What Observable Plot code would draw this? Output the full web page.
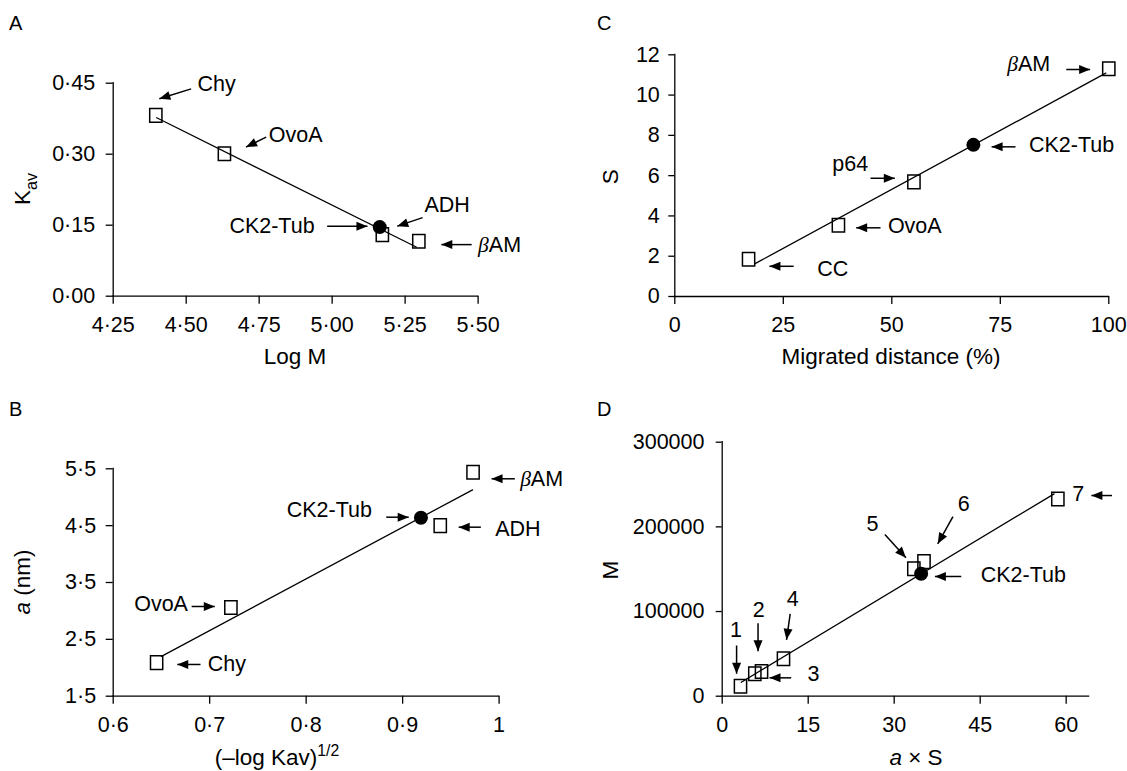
<!DOCTYPE html>
<html>
<head>
<meta charset="utf-8">
<script src="https://cdn.jsdelivr.net/npm/d3@7"></script>
<script src="https://cdn.jsdelivr.net/npm/@observablehq/plot@0.6"></script>
<style>
  html, body { margin: 0; padding: 0; background: #fff; }
  #wrap { position: relative; width: 1127px; height: 771px; overflow: hidden; background: #fff; }
</style>
</head>
<body>
<div id="wrap"></div>
<script>
// ---------------- DATA ----------------
// Panel A: Kav vs Log M
const aNames = ["Chy", "OvoA", "ADH", "βAM"];
const aLogM = [4.396, 4.631, 5.172, 5.297];
const aKav = [0.382, 0.301, 0.130, 0.116];
const aCK2LogM = [5.163];
const aCK2Kav = [0.146];
const aFitLogM = [4.399, 5.288];
const aFitKav = [0.377, 0.104];
const aXTicks = [4.25, 4.5, 4.75, 5.0, 5.25, 5.5];
const aYTicks = [0, 0.15, 0.30, 0.45];

// Panel B: a (nm) vs (-log Kav)^1/2
const bNames = ["Chy", "OvoA", "ADH", "βAM"];
const bX = [0.645, 0.722, 0.939, 0.973];
const bA = [2.09, 3.06, 4.50, 5.44];
const bCK2X = [0.919];
const bCK2A = [4.64];
const bFitX = [0.650, 0.9725];
const bFitA = [2.20, 5.13];
const bXTicks = [0.6, 0.7, 0.8, 0.9, 1];
const bYTicks = [1.5, 2.5, 3.5, 4.5, 5.5];

// Panel C: S vs migrated distance (%)
const cNames = ["CC", "OvoA", "p64", "βAM"];
const cDist = [17.0, 37.7, 55.1, 100];
const cS = [1.85, 3.54, 5.69, 11.31];
const cCK2Dist = [68.8];
const cCK2S = [7.53];
const cFitDist = [18.4, 99.3];
const cFitS = [1.62, 11.09];
const cXTicks = [0, 25, 50, 75, 100];
const cYTicks = [0, 2, 4, 6, 8, 10, 12];

// Panel D: M vs a x S
const dNames = ["1", "2", "3", "4", "5", "6", "7"];
const dAS = [3.19, 5.69, 6.86, 10.69, 33.43, 35.2, 58.55];
const dM = [11800, 26500, 29200, 44200, 150500, 159000, 233000];
const dCK2AS = [34.7];
const dCK2M = [144600];
const dFitAS = [3.33, 57.9];
const dFitM = [16500, 239000];
const dXTicks = [0, 15, 30, 45, 60];
const dYTicks = [0, 100000, 200000, 300000];

// Annotation labels (data coordinates) and arrows (data coordinates)
const aLabels = [
  {text: "Chy", x: 4.539, y: 0.449, anchor: "start"},
  {text: "OvoA", x: 4.783, y: 0.340, anchor: "start"},
  {text: "ADH", x: 5.316, y: 0.192, anchor: "start"},
  {text: "CK2-Tub", x: 4.940, y: 0.148, anchor: "end"},
  {text: "βAM", x: 5.50, y: 0.108, anchor: "start"}
];
const aArrows = [
  {x1: 4.517, y1: 0.438, x2: 4.408, y2: 0.417},
  {x1: 4.774, y1: 0.336, x2: 4.705, y2: 0.315},
  {x1: 5.310, y1: 0.166, x2: 5.223, y2: 0.148},
  {x1: 4.983, y1: 0.148, x2: 5.121, y2: 0.148},
  {x1: 5.478, y1: 0.109, x2: 5.374, y2: 0.109}
];
const bLabels = [
  {text: "βAM", x: 1.0218, y: 5.324, anchor: "start"},
  {text: "ADH", x: 0.9959, y: 4.445, anchor: "start"},
  {text: "CK2-Tub", x: 0.8682, y: 4.766, anchor: "end"},
  {text: "OvoA", x: 0.6775, y: 3.113, anchor: "end"},
  {text: "Chy", x: 0.6979, y: 2.058, anchor: "start"}
];
const bArrows = [
  {x1: 1.0163, y1: 5.324, x2: 0.9922, y2: 5.324},
  {x1: 0.9811, y1: 4.473, x2: 0.9581, y2: 4.473},
  {x1: 0.8830, y1: 4.649, x2: 0.9063, y2: 4.649},
  {x1: 0.6813, y1: 3.078, x2: 0.7053, y2: 3.078},
  {x1: 0.6905, y1: 2.058, x2: 0.6664, y2: 2.058}
];
const cLabels = [
  {text: "βAM", x: 76.6, y: 11.55, anchor: "start"},
  {text: "CK2-Tub", x: 81.6, y: 7.53, anchor: "start"},
  {text: "p64", x: 36.3, y: 6.59, anchor: "start"},
  {text: "OvoA", x: 49.1, y: 3.49, anchor: "start"},
  {text: "CC", x: 32.8, y: 1.375, anchor: "start"}
];
const cArrows = [
  {x1: 90.2, y1: 11.27, x2: 95.7, y2: 11.27},
  {x1: 78.5, y1: 7.43, x2: 73.0, y2: 7.43},
  {x1: 45.1, y1: 5.87, x2: 50.7, y2: 5.87},
  {x1: 47.4, y1: 3.41, x2: 41.8, y2: 3.41},
  {x1: 27.4, y1: 1.50, x2: 21.8, y2: 1.50}
];
const dLabels = [
  {text: "1", x: 2.39, y: 77600, anchor: "middle"},
  {text: "2", x: 6.37, y: 101200, anchor: "middle"},
  {text: "3", x: 14.88, y: 26500, anchor: "start"},
  {text: "4", x: 12.3, y: 115000, anchor: "middle"},
  {text: "5", x: 26.2, y: 203600, anchor: "middle"},
  {text: "6", x: 42.15, y: 227200, anchor: "middle"},
  {text: "7", x: 61.08, y: 238200, anchor: "start"},
  {text: "CK2-Tub", x: 45.1, y: 142600, anchor: "start"}
];
const dArrows = [
  {x1: 2.51, y1: 59900, x2: 2.51, y2: 26500},
  {x1: 6.25, y1: 86200, x2: 6.25, y2: 53100},
  {x1: 12.04, y1: 21700, x2: 8.25, y2: 21700},
  {x1: 11.86, y1: 97300, x2: 11.22, y2: 66600},
  {x1: 28.38, y1: 191000, x2: 32.05, y2: 163500},
  {x1: 40.25, y1: 212200, x2: 37.6, y2: 180000},
  {x1: 68.0, y1: 237000, x2: 64.4, y2: 237000},
  {x1: 41.7, y1: 141400, x2: 37.1, y2: 141400}
];

// ---------------- RENDER ----------------
const FONT = '"Liberation Sans", Arial, Helvetica, sans-serif';
const FS = 21.5;      // tick labels and annotations
const FT = 22.5;      // axis titles
const wrap = document.getElementById("wrap");
const NS = "http://www.w3.org/2000/svg";

const fmtDot = (digits) => (d) => d3.format(`.${digits}f`)(d).replace(".", "·");
const fmtB = (d) => d === 1 ? "1" : fmtDot(1)(d);
const fmtInt = (d) => String(d);

const rectSymbol = {
  draw(context, size) {
    const r = Math.sqrt(size / Math.PI);
    const w = r * 0.9, h = r;
    context.moveTo(-w, -h);
    context.lineTo(w, -h);
    context.lineTo(w, h);
    context.lineTo(-w, h);
    context.closePath();
  }
};

const zip = (xs, ys) => xs.map((x, i) => ({x, y: ys[i]}));

function fillMarkers(svg) {
  svg.querySelectorAll("marker").forEach((m) => {
    while (m.firstChild) m.removeChild(m.firstChild);
    m.setAttribute("viewBox", "-11 -4.5 11 9");
    m.setAttribute("markerUnits", "userSpaceOnUse");
    m.setAttribute("markerWidth", "11");
    m.setAttribute("markerHeight", "9");
    m.setAttribute("refX", "0");
    m.setAttribute("refY", "0");
    m.setAttribute("fill", "#000");
    m.setAttribute("stroke", "none");
    m.setAttribute("overflow", "visible");
    const p = document.createElementNS(NS, "path");
    p.setAttribute("d", "M-11,-4.5L0,0L-11,4.5Z");
    m.appendChild(p);
  });
}

function italicBeta(svg) {
  svg.querySelectorAll("text").forEach((t) => {
    if (t.textContent === "βAM") {
      t.textContent = "";
      const b = document.createElementNS(NS, "tspan");
      b.setAttribute("font-style", "italic");
      b.setAttribute("font-family", '"Liberation Serif", "DejaVu Serif", serif');
      b.textContent = "β";
      const r = document.createElementNS(NS, "tspan");
      r.textContent = "AM";
      t.appendChild(b);
      t.appendChild(r);
    }
  });
}

function panel(cfg) {
  const pts = zip(cfg.px, cfg.py);
  const ck2 = zip(cfg.cx, cfg.cy);
  const fit = zip(cfg.fx, cfg.fy);
  const lab = cfg.labels;
  const marks = [
    Plot.ruleY([cfg.yDomain[0]], {x1: cfg.xDomain[0], x2: cfg.xDomain[1], stroke: "#000", strokeWidth: 1.3, strokeLinecap: "square"}),
    Plot.ruleX([cfg.xDomain[0]], {y1: cfg.yDomain[0], y2: cfg.yDomain[1], stroke: "#000", strokeWidth: 1.3, strokeLinecap: "square"}),
    Plot.axisX(cfg.xTicks, {tickSize: cfg.xts, tickPadding: cfg.xtp, tickFormat: cfg.xFmt, label: null, strokeWidth: 1.3, fontSize: FS}),
    Plot.axisY(cfg.yTicks, {tickSize: cfg.yts, tickPadding: cfg.ytp, tickFormat: cfg.yFmt, label: null, strokeWidth: 1.3, fontSize: FS}),
    Plot.line(fit, {x: "x", y: "y", stroke: "#000", strokeWidth: 1.3}),
    Plot.dot(pts, {x: "x", y: "y", symbol: rectSymbol, r: 6.8, stroke: "#000", fill: "none", strokeWidth: 1.5}),
    Plot.dot(ck2, {x: "x", y: "y", r: 7, fill: "#000", stroke: "none"}),
    Plot.link(cfg.arrows, {x1: "x1", y1: "y1", x2: "x2", y2: "y2", stroke: "#000", strokeWidth: 1.5, markerEnd: "arrow"}),
    Plot.text(lab.filter((d) => d.anchor === "start"), {x: "x", y: "y", text: "text", textAnchor: "start", fontSize: FS, fill: "#000"}),
    Plot.text(lab.filter((d) => d.anchor === "end"), {x: "x", y: "y", text: "text", textAnchor: "end", fontSize: FS, fill: "#000"}),
    Plot.text(lab.filter((d) => d.anchor === "middle"), {x: "x", y: "y", text: "text", textAnchor: "middle", fontSize: FS, fill: "#000"})
  ];
  const svg = Plot.plot({
    width: cfg.width,
    height: cfg.height,
    marginLeft: cfg.m[0],
    marginRight: cfg.m[1],
    marginTop: cfg.m[2],
    marginBottom: cfg.m[3],
    x: {domain: cfg.xDomain},
    y: {domain: cfg.yDomain},
    style: {fontFamily: FONT, fontSize: FS + "px", background: "transparent", color: "#000", overflow: "visible"},
    marks
  });
  svg.style.position = "absolute";
  svg.style.left = cfg.left + "px";
  svg.style.top = cfg.top + "px";
  svg.style.maxWidth = "none";
  fillMarkers(svg);
  italicBeta(svg);
  wrap.appendChild(svg);
  return svg;
}

panel({
  left: 0, top: 0, width: 560, height: 385, m: [112.7, 82.4, 82.7, 89.3],
  xDomain: [4.25, 5.5], yDomain: [0, 0.45], xTicks: aXTicks, yTicks: aYTicks,
  xFmt: fmtDot(2), yFmt: fmtDot(2), xts: 8, xtp: 13, yts: 7, ytp: 11,
  px: aLogM, py: aKav, cx: aCK2LogM, cy: aCK2Kav, fx: aFitLogM, fy: aFitKav,
  labels: aLabels, arrows: aArrows
});
panel({
  left: 0, top: 385, width: 560, height: 386, m: [112.7, 61.4, 83.3, 75.3],
  xDomain: [0.6, 1], yDomain: [1.5, 5.5], xTicks: bXTicks, yTicks: bYTicks,
  xFmt: fmtB, yFmt: fmtDot(1), xts: 8, xtp: 12.3, yts: 7, ytp: 10,
  px: bX, py: bA, cx: bCK2X, cy: bCK2A, fx: bFitX, fy: bFitA,
  labels: bLabels, arrows: bArrows
});
panel({
  left: 560, top: 0, width: 567, height: 385, m: [114.3, 18.7, 54.3, 89],
  xDomain: [0, 100], yDomain: [0, 12], xTicks: cXTicks, yTicks: cYTicks,
  xFmt: fmtInt, yFmt: fmtInt, xts: 8, xtp: 12.7, yts: 6, ytp: 9,
  px: cDist, py: cS, cx: cCK2Dist, cy: cCK2S, fx: cFitDist, fy: cFitS,
  labels: cLabels, arrows: cArrows
});
panel({
  left: 560, top: 385, width: 567, height: 386, m: [161.7, 38.4, 56.7, 75.3],
  xDomain: [0, 64], yDomain: [0, 300000], xTicks: dXTicks, yTicks: dYTicks,
  xFmt: fmtInt, yFmt: fmtInt, xts: 8, xtp: 13, yts: 6, ytp: 11.7,
  px: dAS, py: dM, cx: dCK2AS, cy: dCK2M, fx: dFitAS, fy: dFitM,
  labels: dLabels, arrows: dArrows
});

// ---------------- overlay: panel letters and axis titles ----------------
const ov = d3.create("svg")
  .attr("width", 1127).attr("height", 771)
  .style("position", "absolute").style("left", "0px").style("top", "0px")
  .style("overflow", "visible")
  .attr("font-family", FONT).attr("fill", "#000");

const letters = [
  {t: "A", x: 9, y: 29.5}, {t: "B", x: 9, y: 416},
  {t: "C", x: 597, y: 29.5}, {t: "D", x: 597, y: 416}
];
ov.selectAll("text.letter").data(letters).join("text")
  .attr("class", "letter").attr("x", (d) => d.x).attr("y", (d) => d.y)
  .attr("font-size", 20).text((d) => d.t);

// X titles
ov.append("text").attr("x", 295).attr("y", 364).attr("text-anchor", "middle").attr("font-size", FT).text("Log M");
ov.append("text").attr("x", 891).attr("y", 363.5).attr("text-anchor", "middle").attr("font-size", FT).text("Migrated distance (%)");
{
  const t = ov.append("text").attr("x", 277).attr("y", 765).attr("text-anchor", "middle").attr("font-size", FT);
  t.append("tspan").text("(–log Kav)");
  t.append("tspan").attr("dy", -9).attr("font-size", FT * 0.7).text("1/2");
}
{
  const t = ov.append("text").attr("x", 916).attr("y", 765).attr("text-anchor", "middle").attr("font-size", FT);
  t.append("tspan").attr("font-style", "italic").text("a");
  t.append("tspan").text(" × S");
}
// Y titles (rotated)
{
  const t = ov.append("text").attr("transform", "translate(30,189) rotate(-90)").attr("text-anchor", "middle").attr("font-size", FT);
  t.append("tspan").text("K");
  t.append("tspan").attr("dy", 7).attr("font-size", FT * 0.72).text("av");
}
ov.append("text").attr("transform", "translate(618,176.7) rotate(-90)").attr("text-anchor", "middle").attr("font-size", FT).text("S");
{
  const t = ov.append("text").attr("transform", "translate(30,582) rotate(-90)").attr("text-anchor", "middle").attr("font-size", FT);
  t.append("tspan").attr("font-style", "italic").text("a");
  t.append("tspan").text(" (nm)");
}
ov.append("text").attr("transform", "translate(618,570) rotate(-90)").attr("text-anchor", "middle").attr("font-size", FT).text("M");

wrap.appendChild(ov.node());
</script>
</body>
</html>
